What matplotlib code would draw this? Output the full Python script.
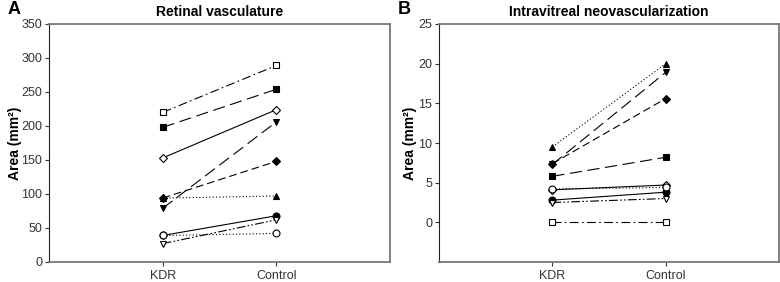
import matplotlib
matplotlib.use("Agg")
import matplotlib.pyplot as plt

plt.rcParams['font.family'] = ['Liberation Sans', 'DejaVu Sans']

groups = ["KDR", "Control"]

# Panel A: retinal vasculature (mm^2)
a_open_square = [220, 289]
a_filled_square = [198, 254]
a_open_diamond = [153, 224]
a_filled_down_tri = [79, 206]
a_filled_diamond = [94, 148]
a_filled_tri = [94, 97]
a_filled_circle = [39, 68]
a_open_circle = [39, 42]
a_open_down_tri = [27, 62]

# Panel B: intravitreal neovascularization (mm^2)
b_filled_tri = [9.5, 20.0]
b_filled_down_tri = [7.3, 18.9]
b_filled_diamond = [7.4, 15.6]
b_filled_square = [5.8, 8.2]
b_open_diamond = [4.1, 4.7]
b_open_circle = [4.2, 4.4]
b_filled_circle = [2.8, 3.8]
b_open_down_tri = [2.5, 3.0]
b_open_square = [0.0, 0.0]

LONG = (0, (11, 5))
DASH = (0, (7, 3.5))
DASHDOT = (0, (8, 3, 1.5, 3))
DASHDOTDOT = (0, (8, 2, 1.5, 2, 1.5, 2))
DOT = (0, (1, 2))

styles = {
    'open_square': dict(marker='s', mfc='white', ls=DASHDOT),
    'filled_square': dict(marker='s', mfc='black', ls=LONG),
    'open_diamond': dict(marker='D', mfc='white', ls='-'),
    'filled_down_tri': dict(marker='v', mfc='black', ls=LONG),
    'filled_diamond': dict(marker='D', mfc='black', ls=DASH),
    'filled_tri': dict(marker='^', mfc='black', ls=DOT),
    'filled_circle': dict(marker='o', mfc='black', ls='-'),
    'open_circle': dict(marker='o', mfc='white', ls=DOT),
    'open_down_tri': dict(marker='v', mfc='white', ls=DASHDOTDOT),
}

series_a = {
    'open_square': a_open_square, 'filled_square': a_filled_square,
    'open_diamond': a_open_diamond, 'filled_down_tri': a_filled_down_tri,
    'filled_diamond': a_filled_diamond, 'filled_tri': a_filled_tri,
    'filled_circle': a_filled_circle, 'open_circle': a_open_circle,
    'open_down_tri': a_open_down_tri,
}
series_b = {
    'open_square': b_open_square, 'filled_square': b_filled_square,
    'open_diamond': b_open_diamond, 'filled_down_tri': b_filled_down_tri,
    'filled_diamond': b_filled_diamond, 'filled_tri': b_filled_tri,
    'filled_circle': b_filled_circle, 'open_circle': b_open_circle,
    'open_down_tri': b_open_down_tri,
}

fig = plt.figure(figsize=(7.8, 2.82), dpi=100)
axA = fig.add_axes([49/780, 20/282, 341/780, 238/282])
axB = fig.add_axes([439/780, 20/282, 340/780, 238/282])

xs = [1, 2]

def setup(ax, series, ylim, yticks, title, ylab_x):
    for name, vals in series.items():
        st = styles[name]
        ms = 4.2 if st['marker'] == 'D' else 5
        ax.plot(xs, vals, color='black', lw=0.8, linestyle=st['ls'],
                marker=st['marker'], mfc=st['mfc'], mec='black', mew=0.8, ms=ms)
    ax.set_xlim(0, 3)
    ax.set_ylim(*ylim)
    ax.set_yticks(yticks)
    ax.set_xticks(xs)
    ax.set_xticklabels(groups)
    ax.tick_params(axis='both', labelsize=9, direction='out', length=3, width=0.8,
                   colors='#333333', pad=2)
    ax.tick_params(axis='x', pad=3)
    for s in ['top', 'right', 'bottom']:
        ax.spines[s].set_color('#777777')
        ax.spines[s].set_linewidth(1.3)
    ax.spines['left'].set_color('#222222')
    ax.spines['left'].set_linewidth(0.8)
    ax.set_ylabel('Area (mm²)', fontsize=10, fontweight='bold')
    ax.yaxis.set_label_coords(ylab_x, 0.5)
    ax.set_title(title, fontsize=10, fontweight='bold', pad=6)

setup(axA, series_a, (0, 350), list(range(0, 351, 50)), 'Retinal vasculature', -27/341)
setup(axB, series_b, (-5, 25), list(range(0, 26, 5)), 'Intravitreal neovascularization', -22/340)

fig.text(8/780, 1 - 10/282, 'A', fontsize=13, fontweight='bold', va='center', ha='left')
fig.text(398/780, 1 - 10/282, 'B', fontsize=13, fontweight='bold', va='center', ha='left')

fig.savefig('out.png', dpi=100)
